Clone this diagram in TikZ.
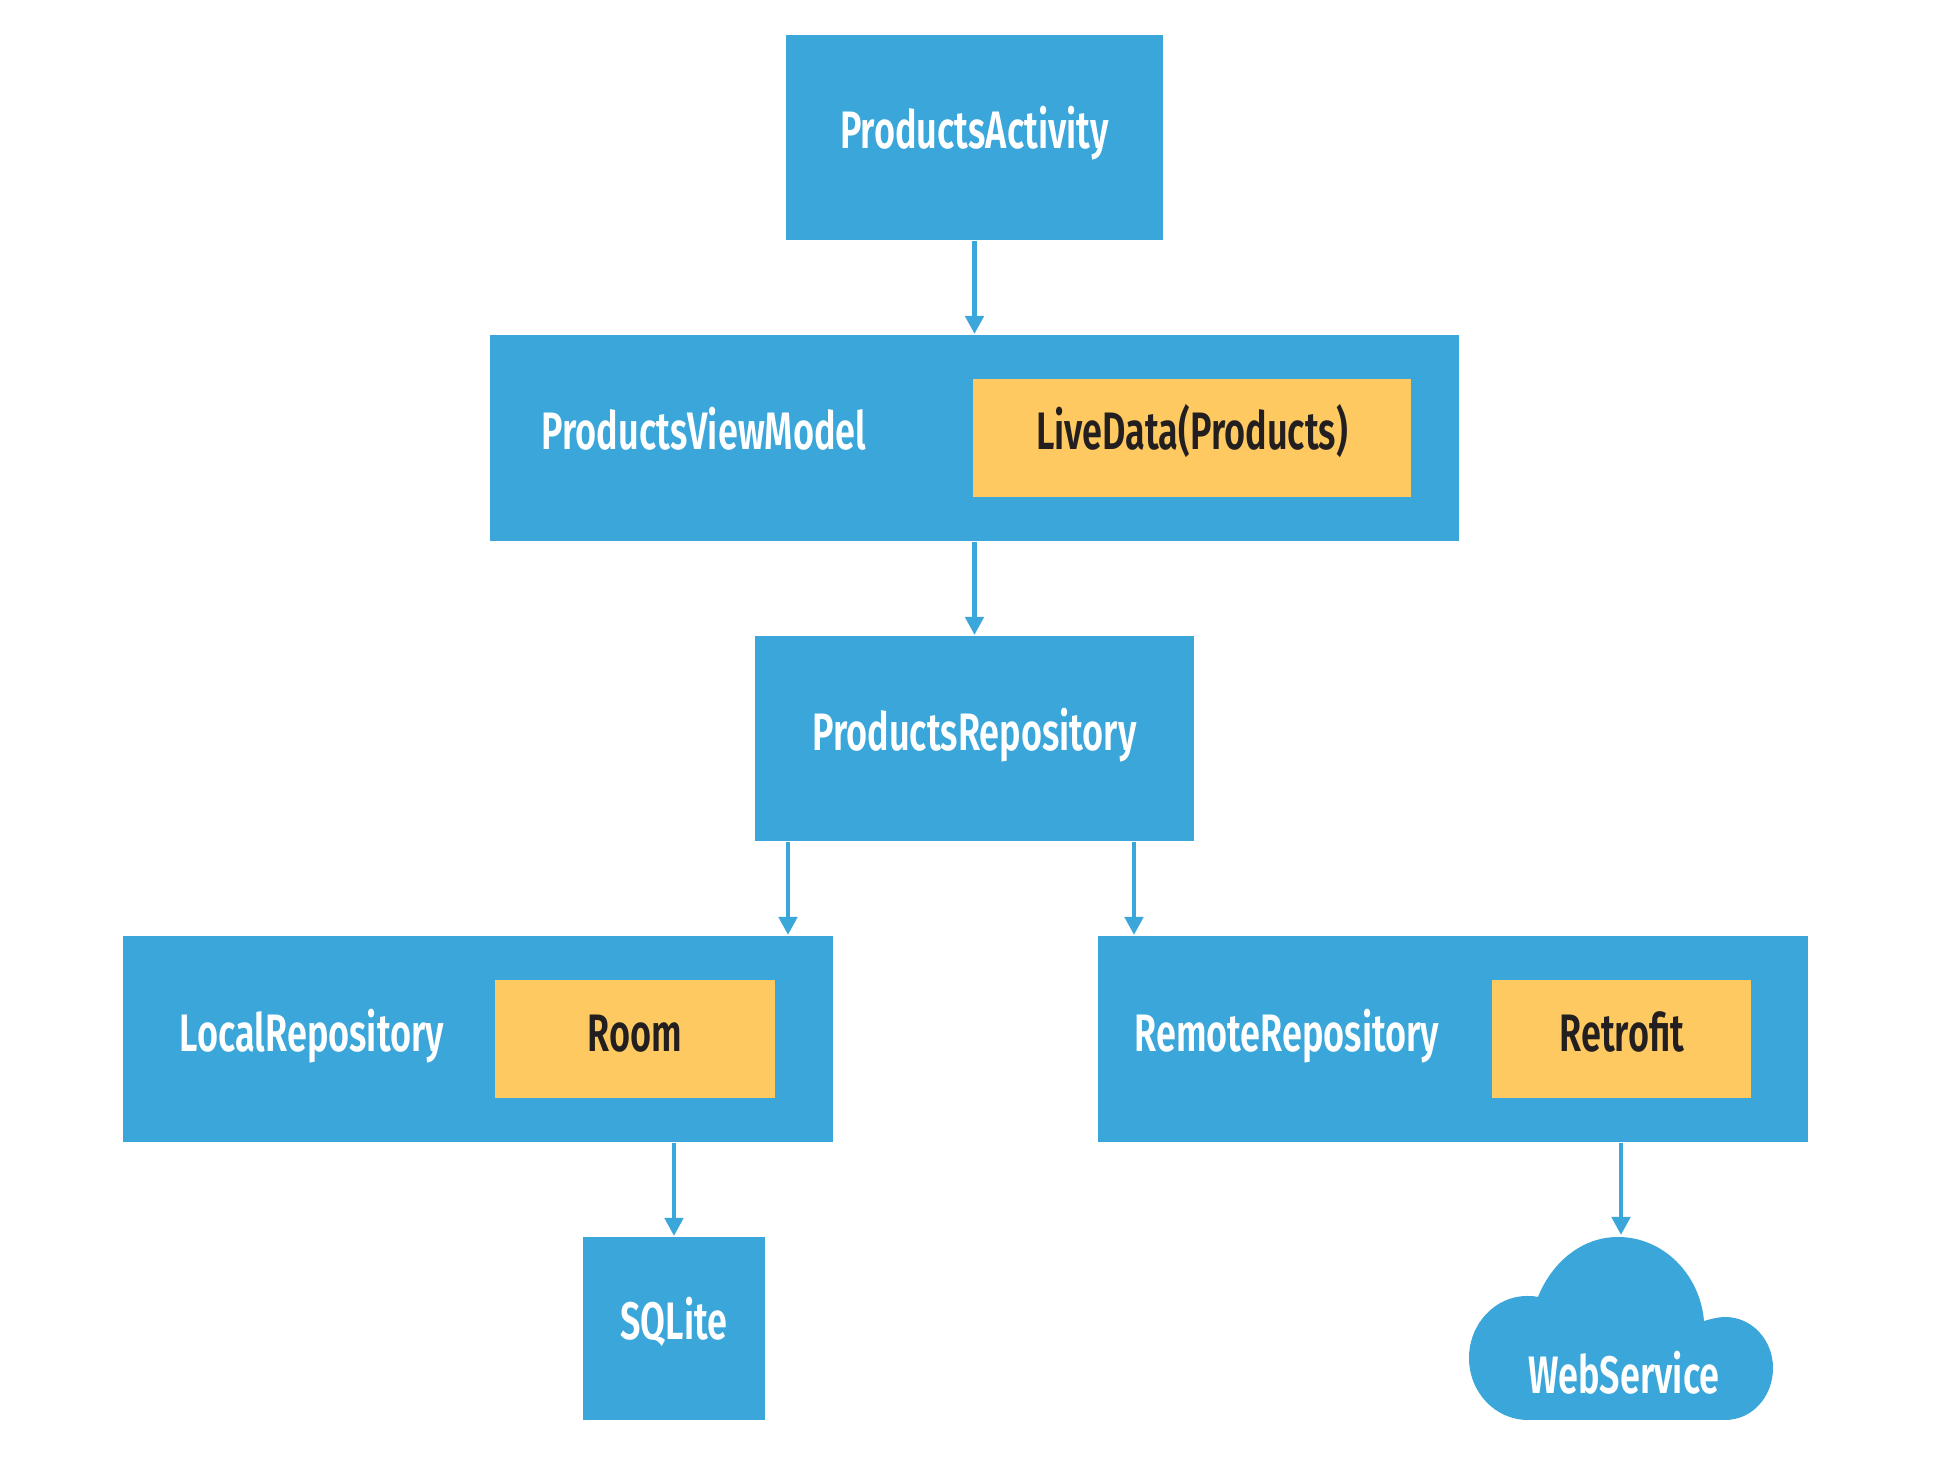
\documentclass[tikz,border=0pt]{standalone}
\usepackage{fontspec}
\setmainfont[FakeStretch=0.685]{Fira Sans SemiBold}
\usetikzlibrary{arrows.meta}
\definecolor{boxblue}{HTML}{3BA6DA}
\definecolor{boxyellow}{HTML}{FDC960}
\definecolor{darktext}{HTML}{231F20}
\tikzset{
	bluebox/.style={fill=boxblue, inner sep=0pt, outer sep=0pt},
	yellowbox/.style={fill=boxyellow, inner sep=0pt, outer sep=0pt, minimum width=#1, minimum height=1.18cm},
	lightlabel/.style={anchor=base, text=white, inner sep=0pt, font=\fontsize{15}{18}\selectfont},
	darklabel/.style={anchor=base, text=darktext, inner sep=0pt, font=\fontsize{15}{18}\selectfont},
	flow/.style={-{Triangle[width=0.18cm, length=0.18cm]}, boxblue, line width=0.045cm, shorten <=0.01cm, shorten >=0.01cm}
}
\begin{document}
\begin{tikzpicture}
	\useasboundingbox (0, 0) rectangle (19.47, 14.63);

	\node [bluebox, minimum width=3.77cm, minimum height=2.05cm]	(activity) at (9.745, 13.255) {};
	\node [bluebox, minimum width=9.69cm, minimum height=2.06cm]	(viewmodel) at (9.745, 10.25) {};
	\node [yellowbox=4.38cm]	(livedata) at (11.92, 10.25) {};
	\node [bluebox, minimum width=4.39cm, minimum height=2.05cm]	(repository) at (9.745, 7.245) {};
	\node [bluebox, minimum width=7.10cm, minimum height=2.06cm]	(local) at (4.78, 4.24) {};
	\node [yellowbox=2.80cm]	(room) at (6.35, 4.24) {};
	\node [bluebox, minimum width=7.10cm, minimum height=2.06cm]	(remote) at (14.53, 4.24) {};
	\node [yellowbox=2.59cm]	(retrofit) at (16.215, 4.24) {};
	\node [bluebox, minimum width=1.82cm, minimum height=1.83cm]	(sqlite) at (6.74, 1.345) {};

	\fill [boxblue]	(15.28, 0.43) .. controls (14.95, 0.43) and (14.69, 0.71) .. (14.69, 1.05)
					.. controls (14.69, 1.39) and (14.95, 1.67) .. (15.27, 1.67)
					.. controls (15.31, 1.67) and (15.34, 1.67) .. (15.38, 1.66)
					.. controls (15.52, 2.01) and (15.82, 2.26) .. (16.18, 2.26)
					.. controls (16.63, 2.26) and (17.00, 1.89) .. (17.04, 1.42)
					.. controls (17.11, 1.44) and (17.18, 1.46) .. (17.25, 1.46)
					.. controls (17.52, 1.46) and (17.73, 1.23) .. (17.73, 0.95)
					.. controls (17.73, 0.66) and (17.52, 0.43) .. (17.25, 0.43)
					-- cycle;
	\coordinate (cloudtop) at (16.21, 2.27);

	\node [lightlabel]	(activitylabel) at (9.745, 13.14) {ProductsActivity};
	\node [lightlabel]	(viewmodellabel) at (7.04, 10.13) {ProductsViewModel};
	\node [darklabel]	(livedatalabel) at (11.92, 10.13) {LiveData(Products)};
	\node [lightlabel]	(repositorylabel) at (9.745, 7.12) {ProductsRepository};
	\node [lightlabel]	(locallabel) at (3.12, 4.11) {LocalRepository};
	\node [darklabel]	(roomlabel) at (6.35, 4.11) {Room};
	\node [lightlabel]	(remotelabel) at (12.87, 4.11) {RemoteRepository};
	\node [darklabel]	(retrofitlabel) at (16.22, 4.11) {Retrofit};
	\node [lightlabel]	(sqlitelabel) at (6.74, 1.235) {SQLite};
	\node [lightlabel]	(webservicelabel) at (16.24, 0.69) {WebService};

	\coordinate (leftdrop) at (7.88, 5.27);
	\coordinate (rightdrop) at (11.34, 5.27);

	\draw [flow]	(activity.south) to (viewmodel.north);
	\draw [flow]	(viewmodel.south) to (repository.north);
	\draw [flow]	(repository.south -| leftdrop) to (leftdrop);
	\draw [flow]	(repository.south -| rightdrop) to (rightdrop);
	\draw [flow]	(local.south -| sqlite.north) to (sqlite.north);
	\draw [flow]	(remote.south -| cloudtop) to (cloudtop);
\end{tikzpicture}
\end{document}
